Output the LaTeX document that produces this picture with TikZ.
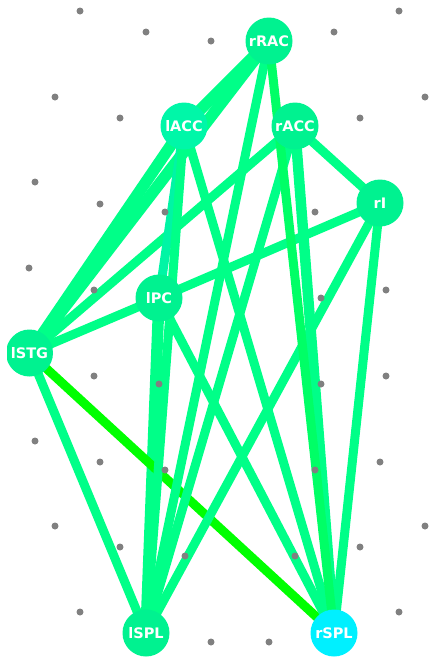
\documentclass[tikz,border=0pt]{standalone}
\usepackage{fontspec}
\setmainfont{DejaVu Sans}
\begin{document}
\begin{tikzpicture}[x=1pt,y=-1pt,
  region/.style={circle,minimum size=47pt,inner sep=0pt,fill=nodegreen,text=white,font=\bfseries\fontsize{14.5}{15}\selectfont},
  conn/.style={line width=9pt,draw=edgegreen},
  thickconn/.style={line width=11.5pt,draw=edgegreen},
  dotpt/.style={circle,fill=dotgray,inner sep=0pt,minimum size=7pt}]
\definecolor{nodegreen}{HTML}{00F290}
\definecolor{accgreen}{HTML}{00F7A8}
\definecolor{edgegreen}{HTML}{00FF88}
\definecolor{cyanedge}{HTML}{00F5A5}
\definecolor{brightedge}{HTML}{00FF66}
\definecolor{puregreen}{HTML}{00FF00}
\definecolor{spcyan}{HTML}{00F0FF}
\definecolor{dotgray}{HTML}{808080}
\useasboundingbox (0,0) rectangle (429,657);
\begin{scope}
\clip (7,0) rectangle (429,657);
% node anchors
\coordinate (crRAC) at (269,41);
\coordinate (clACC) at (184,126);
\coordinate (crACC) at (295,126);
\coordinate (crI) at (380,203);
\coordinate (clPC) at (159,298);
\coordinate (clSTG) at (29.5,353);
\coordinate (clSPL) at (146,633);
\coordinate (crSPL) at (334,633);
% edges
\draw[thickconn] (crRAC) -- (clACC);
\draw[thickconn] (crRAC) -- (clSTG);
\draw[thickconn] (clACC) -- (clSTG);
\draw[conn] (crACC) -- (clSTG);
\draw[conn] (clPC) -- (clSTG);
\draw[conn] (clPC) -- (crI);
\draw[conn] (crACC) -- (crI);
\draw[thickconn] (clPC) -- (clSPL);
\draw[conn,draw=puregreen] (clSTG) -- (crSPL);
\draw[conn] (clSTG) -- (clSPL);
\draw[conn,draw=cyanedge] (clACC) -- (clPC);
\draw[conn] (clACC) -- (clSPL);
\draw[conn] (crRAC) -- (clSPL);
\draw[conn] (crACC) -- (clSPL);
\draw[conn] (crI) -- (clSPL);
\draw[conn] (clACC) -- (crSPL);
\draw[conn] (clPC) -- (crSPL);
\draw[conn] (crI) -- (crSPL);
\draw[thickconn,line width=10.5pt] (crACC) -- (crSPL);
\draw[conn,draw=brightedge] (crRAC) -- (crSPL);
% grey dots
\foreach \p [count=\i] in {(80,11),(399,11),(146,32),(211,41),(334,32),(55,97),(425,97),(120,118),(360,118),
  (35,182),(100,204),(165,212),(315,212),(29,268),(94,290),(321,298),(386,290),(94,376),(159,384),(321,384),(386,376),
  (35,441),(100,462),(165,470),(315,470),(380,462),(55,526),(425,526),(120,547),(185,556),(295,556),(360,547),
  (80,612),(399,612),(211,642),(269,642)}
  \node[dotpt] (d\i) at \p {};
% nodes
\node[region] (rRAC) at (crRAC) {rRAC};
\node[region,fill=accgreen] (lACC) at (clACC) {lACC};
\node[region] (rACC) at (crACC) {rACC};
\node[region] (rI) at (crI) {rI};
\node[region] (lPC) at (clPC) {lPC};
\node[region] (lSTG) at (clSTG) {lSTG};
\node[region] (lSPL) at (clSPL) {lSPL};
\node[region,fill=spcyan] (rSPL) at (crSPL) {rSPL};
\end{scope}
\end{tikzpicture}
\end{document}
